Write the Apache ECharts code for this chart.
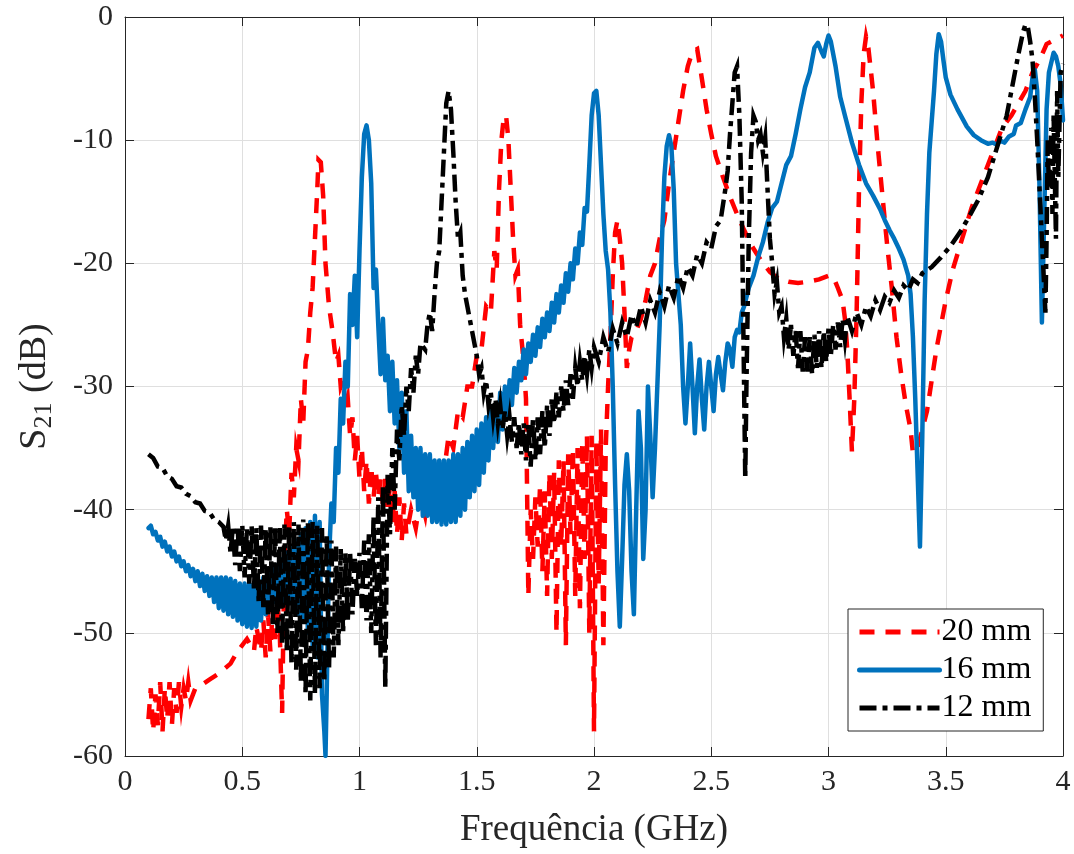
<!DOCTYPE html>
<html>
<head>
<meta charset="utf-8">
<script src="https://cdn.jsdelivr.net/npm/echarts@6/dist/echarts.min.js"></script>
<style>
html,body{margin:0;padding:0;background:#fff;}
#chart{width:1074px;height:854px;}
</style>
</head>
<body>
<div id="chart"></div>
<script>
// Frequency ticks (GHz) and S21 ticks (dB)
const xTicks = [0, 0.5, 1, 1.5, 2, 2.5, 3, 3.5, 4];
const yTicks = [-60, -50, -40, -30, -20, -10, 0];
const seriesNames = ['20 mm', '16 mm', '12 mm'];

// [frequency GHz, S21 dB]
const s21_20mm = [
[0.10,-57],[0.11,-54.5],[0.12,-58],[0.13,-55],[0.14,-57.5],[0.15,-54],[0.16,-58],[0.17,-54.5],[0.18,-57],[0.19,-54],
[0.20,-57.5],[0.21,-54.5],[0.22,-56.5],[0.23,-54],[0.24,-56],[0.25,-54.5],[0.26,-55.5],[0.27,-54],[0.28,-55.5],[0.30,-54.5],
[0.33,-54.2],[0.36,-53.8],[0.40,-53.3],[0.45,-52.5],[0.48,-51.5],[0.52,-50.5],[0.55,-51.5],[0.56,-49.5],[0.58,-51.5],[0.59,-49],
[0.60,-52],[0.61,-48.5],[0.62,-51.5],[0.63,-48],[0.64,-50.5],[0.65,-47.5],[0.66,-50],[0.67,-56.5],[0.68,-44],[0.69,-40],
[0.70,-42],[0.71,-37],[0.72,-39],[0.73,-35],[0.74,-36],[0.75,-31],[0.76,-33],[0.77,-28],[0.78,-27],[0.79,-24],
[0.80,-22],[0.81,-18],[0.82,-14],[0.825,-11.6],[0.835,-11.8],[0.845,-14.5],[0.855,-20],[0.87,-23.5],[0.885,-25.5],[0.90,-28],
[0.91,-27.5],[0.92,-30],[0.93,-29.5],[0.94,-32],[0.95,-31],[0.96,-34],[0.97,-32.5],[0.98,-36],[0.99,-34],[1.00,-37.5],
[1.01,-35],[1.02,-38.5],[1.03,-36],[1.04,-39.5],[1.05,-36.5],[1.06,-39],[1.07,-37],[1.08,-39],[1.09,-37.5],[1.10,-39.5],
[1.11,-37.5],[1.12,-40],[1.13,-38],[1.14,-41],[1.15,-38.5],[1.16,-42],[1.17,-39],[1.18,-42.5],[1.19,-39.5],[1.20,-42],
[1.22,-40],[1.24,-41.5],[1.26,-39],[1.28,-40.5],[1.30,-37.5],[1.32,-39],[1.34,-36],[1.36,-37],[1.38,-34],[1.40,-35],
[1.42,-32],[1.44,-32.5],[1.46,-30],[1.48,-30],[1.50,-27.5],[1.52,-27],[1.54,-23.5],[1.56,-24],[1.575,-19],[1.585,-20.5],
[1.595,-14],[1.605,-10],[1.615,-8.2],[1.625,-8],[1.635,-10],[1.645,-14],[1.655,-18],[1.665,-21],[1.675,-20.5],[1.685,-25],
[1.70,-28],[1.71,-31],[1.72,-47],[1.73,-40],[1.74,-44],[1.75,-39],[1.76,-43],[1.77,-38],[1.78,-45],[1.79,-38.5],
[1.80,-47],[1.81,-37],[1.82,-44],[1.83,-37],[1.84,-50],[1.85,-36],[1.86,-43],[1.87,-36],[1.88,-51],[1.89,-35.5],
[1.90,-42],[1.91,-35],[1.92,-47],[1.93,-35],[1.94,-48],[1.95,-34.5],[1.96,-44],[1.97,-34],[1.98,-50],[1.99,-34],
[2.00,-58],[2.01,-34.5],[2.02,-46],[2.03,-33.5],[2.04,-51],[2.05,-35],[2.06,-30],[2.07,-26],[2.08,-21],[2.09,-17.5],
[2.10,-16.5],[2.11,-18],[2.12,-20],[2.13,-24],[2.14,-28.5],[2.15,-27],[2.16,-26],[2.18,-25.5],[2.20,-24.5],[2.22,-23],
[2.24,-21],[2.26,-20],[2.28,-18],[2.30,-16.5],[2.32,-13.5],[2.34,-11],[2.36,-8.5],[2.38,-6],[2.40,-4],[2.42,-2.8],
[2.44,-2.6],[2.46,-5],[2.48,-7.5],[2.50,-9.5],[2.52,-11.3],[2.55,-13],[2.58,-14.6],[2.61,-16],[2.64,-17.3],[2.67,-18.5],
[2.71,-19.7],[2.75,-20.7],[2.79,-21.3],[2.83,-21.5],[2.87,-21.6],[2.91,-21.5],[2.96,-21.3],[3.00,-21],[3.02,-21.1],[3.04,-22],
[3.06,-23],[3.07,-24.5],[3.08,-27],[3.09,-31],[3.10,-35.3],[3.11,-31],[3.12,-24],[3.13,-14],[3.14,-7],[3.15,-3],
[3.16,-1.6],[3.17,-2.5],[3.19,-6],[3.21,-10.5],[3.23,-14.5],[3.25,-18.5],[3.27,-22],[3.29,-26],[3.31,-29],[3.33,-31.5],
[3.35,-33.5],[3.36,-35.4],[3.38,-35],[3.40,-33.5],[3.42,-32],[3.44,-29.5],[3.46,-27],[3.48,-25],[3.50,-23],[3.53,-20.5],
[3.57,-18],[3.61,-15.5],[3.65,-13.5],[3.70,-11],[3.74,-9],[3.78,-8],[3.81,-7],[3.84,-6],[3.87,-4.5],[3.90,-3.5],
[3.93,-2.2],[3.96,-1.9],[4.00,-1.5]
];

const s21_16mm = [
[0.10,-41.5],[0.11,-41.3],[0.12,-42],[0.13,-41.8],[0.14,-42.5],[0.15,-42.2],[0.16,-43],[0.17,-42.6],[0.18,-43.4],[0.19,-43],
[0.20,-43.8],[0.21,-43.4],[0.22,-44.2],[0.23,-43.8],[0.24,-44.6],[0.25,-44.2],[0.26,-45],[0.27,-44.5],[0.28,-45.4],[0.29,-44.8],
[0.30,-45.8],[0.31,-45],[0.32,-46.2],[0.33,-45.2],[0.34,-46.6],[0.35,-45.4],[0.36,-47],[0.37,-45.5],[0.38,-47.5],[0.39,-45.5],
[0.40,-48],[0.41,-45.5],[0.42,-48.2],[0.43,-45.5],[0.44,-48.5],[0.45,-45.6],[0.46,-48.7],[0.47,-45.8],[0.48,-49],[0.49,-46],
[0.50,-49.3],[0.51,-46],[0.52,-49.5],[0.53,-46],[0.54,-49.6],[0.55,-46],[0.56,-49.5],[0.57,-45.8],[0.58,-49],[0.59,-45.5],
[0.60,-48.5],[0.61,-45],[0.62,-48],[0.63,-44.8],[0.64,-47.5],[0.65,-44.5],[0.66,-47.5],[0.67,-44],[0.68,-47.5],[0.69,-43.5],
[0.70,-47.5],[0.71,-43],[0.72,-48],[0.73,-42.5],[0.74,-48.5],[0.75,-42],[0.76,-49],[0.77,-41.5],[0.78,-50],[0.79,-41],
[0.80,-51],[0.81,-40.5],[0.82,-52],[0.83,-41],[0.84,-55],[0.85,-58],[0.855,-60],[0.86,-55],[0.87,-44],[0.88,-39.5],
[0.89,-41],[0.90,-35],[0.91,-37],[0.92,-31],[0.93,-33],[0.94,-28],[0.95,-30],[0.96,-22.5],[0.97,-25],[0.98,-21],
[0.99,-26],[1.00,-19],[1.01,-13],[1.02,-9.5],[1.03,-8.8],[1.04,-10],[1.05,-13.5],[1.06,-22],[1.07,-20.5],[1.08,-25],
[1.09,-29],[1.10,-24.5],[1.11,-29.5],[1.12,-27.5],[1.13,-32],[1.14,-28],[1.15,-33],[1.16,-29.5],[1.17,-35],[1.18,-30.5],
[1.19,-37],[1.20,-32],[1.21,-38.5],[1.22,-34],[1.23,-39],[1.24,-35],[1.25,-40],[1.26,-35],[1.27,-40.5],[1.28,-35.5],
[1.29,-40.5],[1.30,-35.5],[1.31,-41],[1.32,-36],[1.33,-41],[1.34,-36],[1.35,-41.2],[1.36,-36],[1.37,-41.2],[1.38,-36],
[1.39,-41],[1.40,-35.5],[1.41,-41],[1.42,-35.5],[1.43,-40.5],[1.44,-35],[1.45,-40],[1.46,-34.5],[1.47,-39],[1.48,-34],
[1.49,-38.5],[1.50,-33.5],[1.51,-38],[1.52,-33],[1.53,-37],[1.54,-32.5],[1.55,-36],[1.56,-32],[1.57,-35],[1.58,-31.5],
[1.59,-34.5],[1.60,-30.5],[1.61,-33.5],[1.62,-30],[1.63,-32.5],[1.64,-29.5],[1.65,-31.5],[1.66,-28.5],[1.67,-30.5],[1.68,-28],
[1.69,-29.5],[1.70,-27],[1.71,-29],[1.72,-26.5],[1.73,-28],[1.74,-25.8],[1.75,-27.5],[1.76,-25.2],[1.77,-26.8],[1.78,-24.5],
[1.79,-26],[1.80,-24],[1.81,-25.5],[1.82,-23.2],[1.83,-24.8],[1.84,-22.5],[1.85,-24],[1.86,-21.8],[1.87,-23.2],[1.88,-20.8],
[1.89,-22.3],[1.90,-20],[1.91,-21.3],[1.92,-18.8],[1.93,-20],[1.94,-17.5],[1.95,-18.5],[1.96,-15.5],[1.97,-15.8],[1.98,-12],
[1.99,-8],[2.00,-6.2],[2.01,-6],[2.02,-8],[2.03,-12],[2.04,-16],[2.05,-19],[2.06,-20.5],[2.07,-24],[2.08,-30],
[2.09,-38],[2.10,-45],[2.11,-49.5],[2.12,-44],[2.13,-38],[2.14,-35.5],[2.15,-38.5],[2.16,-45],[2.17,-48.5],[2.18,-40],
[2.19,-32],[2.20,-35],[2.21,-44],[2.22,-40],[2.23,-30],[2.24,-34],[2.25,-39],[2.26,-35],[2.27,-30],[2.28,-25],
[2.29,-18],[2.30,-13],[2.31,-10.5],[2.32,-9.6],[2.33,-10.5],[2.34,-14],[2.35,-20],[2.36,-22.5],[2.37,-25],[2.38,-30],
[2.39,-33],[2.40,-30],[2.41,-26.5],[2.42,-30],[2.43,-33.8],[2.44,-30],[2.45,-27.8],[2.46,-31],[2.47,-33.5],[2.48,-30],
[2.49,-28],[2.50,-30],[2.51,-32],[2.52,-29],[2.53,-27.6],[2.54,-29],[2.55,-30.3],[2.56,-28],[2.57,-26.5],[2.58,-27],
[2.59,-28.4],[2.60,-26],[2.61,-25.4],[2.62,-25.6],[2.63,-24],[2.64,-23.5],[2.66,-22],[2.68,-21],[2.70,-19.5],[2.72,-18.3],
[2.74,-16.7],[2.76,-15.5],[2.78,-15],[2.80,-13.5],[2.82,-12],[2.84,-11.3],[2.86,-9.5],[2.88,-7.5],[2.90,-5.7],[2.92,-4.5],
[2.94,-2.5],[2.955,-2.1],[2.97,-2.8],[2.98,-3.2],[2.99,-2.2],[3.00,-1.5],[3.01,-2],[3.03,-4],[3.05,-6.5],[3.07,-8],
[3.10,-10.2],[3.13,-12],[3.16,-13.5],[3.19,-14.5],[3.22,-15.6],[3.24,-16.5],[3.26,-17.3],[3.28,-18],[3.30,-18.8],[3.32,-19.7],
[3.34,-21],[3.35,-22.5],[3.36,-26],[3.37,-31],[3.38,-37],[3.39,-43],[3.40,-34],[3.41,-23],[3.42,-16],[3.43,-11],
[3.44,-8.5],[3.45,-6],[3.46,-3],[3.47,-1.4],[3.48,-2],[3.49,-3.5],[3.50,-4.9],[3.52,-6.3],[3.55,-7.5],[3.59,-8.9],
[3.62,-9.6],[3.65,-10],[3.68,-10.3],[3.70,-10.2],[3.72,-10.4],[3.73,-10],[3.75,-10.2],[3.77,-9.7],[3.79,-9.5],[3.80,-8.8],
[3.82,-8.6],[3.84,-7.5],[3.85,-7],[3.86,-6.5],[3.87,-4.9],[3.88,-4.3],[3.89,-6],[3.90,-14],[3.91,-24.8],[3.92,-16],
[3.93,-7.5],[3.94,-4.5],[3.96,-2.9],[3.97,-3.2],[3.98,-4],[3.99,-5.5],[4.00,-8.4]
];

const s21_12mm = [
[0.10,-35.5],[0.12,-35.8],[0.14,-36.5],[0.16,-36.6],[0.18,-37.3],[0.20,-37.5],[0.22,-38.1],[0.24,-38.2],[0.26,-38.7],[0.28,-38.9],
[0.30,-39.4],[0.32,-39.5],[0.34,-40.1],[0.36,-40.2],[0.38,-40.8],[0.40,-41.0],[0.42,-41.4],[0.43,-42.5],[0.44,-41.3],
[0.45,-43.5],[0.46,-41.4],[0.47,-44.5],[0.48,-41.3],[0.49,-45],[0.50,-41.2],[0.51,-45.5],[0.52,-41.5],[0.53,-46],[0.54,-41.3],
[0.55,-46.5],[0.56,-41.5],[0.57,-47.5],[0.58,-41.3],[0.59,-48],[0.60,-41.5],[0.61,-48.5],[0.62,-41.4],[0.63,-49.5],[0.64,-41.3],
[0.65,-50],[0.66,-41.5],[0.67,-51],[0.68,-41.2],[0.69,-51.5],[0.70,-41.4],[0.71,-52.5],[0.72,-41],[0.73,-53],[0.74,-41.2],
[0.75,-54],[0.76,-40.8],[0.77,-55],[0.78,-41],[0.79,-55.5],[0.80,-41],[0.81,-55],[0.82,-41.2],[0.83,-54.5],[0.84,-41.5],
[0.85,-54],[0.86,-42],[0.87,-53],[0.88,-42.5],[0.89,-52],[0.90,-43],[0.91,-51],[0.92,-43.2],[0.93,-50],[0.94,-43.5],
[0.95,-49],[0.96,-43.5],[0.97,-48.5],[0.98,-44],[0.99,-47],[1.00,-43.5],[1.01,-48],[1.02,-42.5],[1.03,-49],[1.04,-42],
[1.05,-50],[1.06,-40.5],[1.07,-51],[1.08,-39],[1.09,-52],[1.10,-38],[1.11,-54.5],[1.12,-37],[1.13,-42],[1.14,-35],
[1.15,-40],[1.16,-33.5],[1.17,-36],[1.18,-31.5],[1.19,-34],[1.20,-30],[1.21,-32],[1.22,-28.5],[1.23,-30.5],[1.24,-27.5],
[1.25,-29],[1.26,-26.5],[1.28,-27],[1.29,-25],[1.30,-24],[1.31,-25.5],[1.32,-22.5],[1.33,-20],[1.34,-19],[1.35,-15],
[1.36,-11],[1.37,-7],[1.38,-6],[1.39,-7.5],[1.40,-11],[1.41,-15],[1.42,-18],[1.43,-17.5],[1.44,-21],[1.45,-22.5],
[1.46,-23.5],[1.47,-24.5],[1.48,-25.5],[1.49,-26.5],[1.50,-27.5],[1.51,-29],[1.52,-28.5],[1.53,-30.5],[1.54,-29.5],[1.55,-31.5],
[1.56,-30.5],[1.57,-32.5],[1.58,-31],[1.59,-33],[1.60,-31.5],[1.61,-33.5],[1.62,-32],[1.63,-34],[1.64,-32.5],[1.65,-34.5],
[1.66,-32.5],[1.67,-35],[1.68,-33],[1.69,-35.5],[1.70,-33],[1.71,-36],[1.72,-33],[1.73,-36.5],[1.74,-32.5],[1.75,-36],
[1.76,-32.5],[1.77,-35.5],[1.78,-32],[1.79,-35],[1.80,-31.5],[1.81,-34],[1.82,-31],[1.83,-33],[1.84,-30.5],[1.85,-32.5],
[1.86,-30],[1.87,-32],[1.88,-29.5],[1.89,-31.5],[1.90,-29],[1.91,-31],[1.92,-28.5],[1.93,-30],[1.94,-28],[1.95,-29.5],
[1.96,-27.5],[1.97,-29],[1.98,-27],[1.99,-28.5],[2.00,-26.8],[2.02,-28],[2.04,-26],[2.06,-27.2],[2.08,-25.3],[2.10,-26.5],
[2.12,-24.8],[2.14,-26],[2.16,-24.2],[2.18,-25.2],[2.20,-23.5],[2.22,-24.8],[2.24,-23],[2.26,-24],[2.28,-22.3],[2.30,-23.5],
[2.32,-21.8],[2.34,-22.8],[2.36,-21],[2.38,-22],[2.40,-20.3],[2.42,-21],[2.44,-19.3],[2.46,-20],[2.48,-18.3],[2.50,-18.8],
[2.52,-17],[2.54,-16.5],[2.56,-14],[2.57,-12.5],[2.58,-9.5],[2.59,-7],[2.60,-4.5],[2.61,-4],[2.62,-8],[2.63,-15],
[2.64,-30],[2.645,-37.5],[2.65,-30],[2.66,-18],[2.67,-11],[2.68,-8],[2.69,-8.5],[2.70,-10],[2.71,-9.5],[2.72,-11],
[2.73,-9.8],[2.74,-14],[2.75,-18],[2.76,-20],[2.77,-22.5],[2.78,-21.5],[2.79,-24],[2.80,-23.5],[2.81,-26],[2.82,-24.5],
[2.83,-27],[2.84,-25],[2.85,-27.5],[2.86,-25.5],[2.87,-28.5],[2.88,-25.5],[2.89,-28.8],[2.90,-26],[2.91,-28.8],[2.92,-26],
[2.93,-29],[2.94,-25.8],[2.95,-28.5],[2.96,-25.5],[2.97,-28.5],[2.98,-25.5],[2.99,-28],[3.00,-25.3],[3.01,-27.5],[3.02,-25],
[3.03,-27],[3.04,-24.8],[3.05,-26.8],[3.06,-24.5],[3.07,-26.2],[3.08,-24.3],[3.10,-25.5],[3.12,-24],[3.14,-25],[3.16,-23.5],
[3.18,-24.3],[3.20,-23],[3.22,-23.8],[3.24,-22.7],[3.26,-23.2],[3.28,-22.2],[3.30,-22.8],[3.32,-21.8],[3.34,-22.2],[3.36,-21.3],
[3.38,-21.6],[3.40,-20.8],[3.44,-20.3],[3.48,-19.5],[3.52,-18.6],[3.56,-17.5],[3.60,-16.2],[3.64,-14.8],[3.68,-13],[3.72,-10.5],
[3.76,-8],[3.79,-5],[3.81,-3],[3.83,-1.2],[3.84,-0.6],[3.85,-0.8],[3.86,-2],[3.87,-3.5],[3.88,-6.5],[3.89,-10],
[3.90,-14],[3.91,-18],[3.92,-22],[3.925,-24],[3.93,-18],[3.935,-10],[3.94,-14],[3.95,-9],[3.955,-16],[3.96,-8],
[3.97,-18],[3.975,-6],[3.98,-13],[3.99,-4.5],[4.00,-3.8]
];

const FONT = '"Liberation Serif", "Times New Roman", serif';
const AX = '#262626';

const chart = echarts.init(document.getElementById('chart'), null, {renderer: 'canvas'});

const baseX = {
  type: 'value', min: xTicks[0], max: xTicks[xTicks.length - 1], interval: 0.5,
  axisLine: {show: true, onZero: false, lineStyle: {color: AX, width: 1}},
  axisTick: {show: true, inside: true, length: 9, lineStyle: {color: AX, width: 1}},
  splitLine: {show: false}
};
const baseY = {
  type: 'value', min: yTicks[0], max: yTicks[yTicks.length - 1], interval: 10,
  axisLine: {show: true, onZero: false, lineStyle: {color: AX, width: 1}},
  axisTick: {show: true, inside: true, length: 9, lineStyle: {color: AX, width: 1}},
  splitLine: {show: false}
};

const option = {
  animation: false,
  backgroundColor: '#ffffff',
  grid: {left: 125, right: 11, top: 17, bottom: 97, containLabel: false},
  xAxis: [
    Object.assign({}, baseX, {
      position: 'bottom',
      splitLine: {show: true, lineStyle: {color: '#dfdfdf', width: 1}},
      axisLabel: {show: true, color: AX, fontFamily: FONT, fontSize: 30, margin: 11,
        formatter: v => String(v)},
      name: 'Frequência (GHz)', nameLocation: 'middle', nameGap: 56,
      nameTextStyle: {color: AX, fontFamily: FONT, fontSize: 37}
    }),
    Object.assign({}, baseX, {position: 'top', axisLabel: {show: false}})
  ],
  yAxis: [
    Object.assign({}, baseY, {
      position: 'left',
      splitLine: {show: true, lineStyle: {color: '#dfdfdf', width: 1}},
      axisLabel: {show: true, color: AX, fontFamily: FONT, fontSize: 30, margin: 12},
      name: '{s|S}{sub|21}{s| (dB)}', nameLocation: 'middle', nameGap: 68, nameRotate: 90,
      nameTextStyle: {
        color: AX, fontFamily: FONT, fontSize: 38,
        rich: {
          s: {color: AX, fontFamily: FONT, fontSize: 38, lineHeight: 44},
          sub: {color: AX, fontFamily: FONT, fontSize: 26, lineHeight: 44, verticalAlign: 'bottom', padding: [16, 0, 0, 0]}
        }
      }
    }),
    Object.assign({}, baseY, {position: 'right', axisLabel: {show: false}})
  ],
  legend: {
    show: true, orient: 'vertical', left: 848, top: 609,
    data: seriesNames,
    itemWidth: 80, itemHeight: 28, itemGap: 6,
    padding: [7, 12, 7, 9],
    backgroundColor: '#ffffff', borderColor: AX, borderWidth: 1, borderRadius: 0,
    itemStyle: {opacity: 0, borderWidth: 0},
    lineStyle: {width: 5},
    textStyle: {color: '#000', fontFamily: FONT, fontSize: 32, padding: [0, 0, 0, -3]}
  },
  series: [
    {
      name: seriesNames[0], type: 'line', data: s21_20mm, showSymbol: false, symbol: 'none',
      xAxisIndex: 0, yAxisIndex: 0, clip: true, z: 2,
      lineStyle: {color: '#ff0000', width: 4.5, type: [15, 11], cap: 'butt', join: 'miter'},
      itemStyle: {color: '#ff0000'}
    },
    {
      name: seriesNames[1], type: 'line', data: s21_16mm, showSymbol: false, symbol: 'none',
      xAxisIndex: 0, yAxisIndex: 0, clip: true, z: 3,
      lineStyle: {color: '#0072bd', width: 4.5, type: 'solid', join: 'round', cap: 'round'},
      itemStyle: {color: '#0072bd'}
    },
    {
      name: seriesNames[2], type: 'line', data: s21_12mm, showSymbol: false, symbol: 'none',
      xAxisIndex: 0, yAxisIndex: 0, clip: true, z: 4,
      lineStyle: {color: '#000000', width: 4.5, type: [17, 6, 5, 6], cap: 'butt', join: 'miter'},
      itemStyle: {color: '#000000'}
    }
  ]
};
chart.setOption(option);
</script>
</body>
</html>
